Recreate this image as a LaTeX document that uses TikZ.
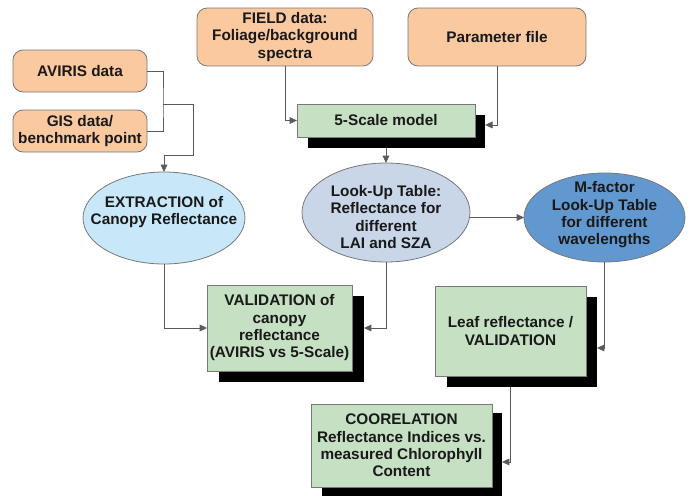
\documentclass[tikz,border=0pt]{standalone}
\usepackage{fontspec}
\setmainfont{Liberation Sans}
\usetikzlibrary{arrows.meta,shapes.geometric}
\definecolor{peach}{RGB}{250,201,160}
\definecolor{sage}{RGB}{198,224,196}
\definecolor{skyblue}{RGB}{200,232,250}
\definecolor{mistblue}{RGB}{200,214,232}
\definecolor{deepblue}{RGB}{98,152,208}
\definecolor{edgegray}{RGB}{120,120,120}
\definecolor{linegray}{RGB}{90,90,90}
\definecolor{inkdark}{RGB}{25,25,25}

\begin{document}
\begin{tikzpicture}[x=0.75pt, y=-0.75pt, font=\bfseries\fontsize{11.5}{13}\selectfont,
  >={Triangle[length=5.5pt,width=5pt]}, every node/.style={align=center, text=inkdark, outer sep=0pt},
  src/.style={draw=edgegray, rounded corners=7.5pt, fill=peach, line width=0.6pt},
  proc/.style={draw=edgegray, fill=sage, line width=0.6pt, inner sep=2pt},
  shd/.style={fill=black, inner sep=0pt},
  oval/.style={ellipse, draw=edgegray, line width=0.6pt, inner sep=0pt},
  ar/.style={->, draw=linegray, line width=0.6pt},
  ln/.style={draw=linegray, line width=0.6pt}]
\useasboundingbox (0,0) rectangle (693,496);
% inputs
\node[src, minimum width=100.5pt, minimum height=31.5pt] (aviris) at (80,71) {AVIRIS data};
\node[src, minimum width=100.5pt, minimum height=31.5pt] (gis) at (80,131) {GIS data/\\benchmark point};
\node[src, minimum width=132pt, minimum height=42pt] (field) at (285,37) {FIELD data:\\Foliage/background\\spectra};
\node[src, minimum width=133.5pt, minimum height=43.5pt] (param) at (497,37) {Parameter file};
% model
\node[shd, minimum width=133pt, minimum height=24.75pt] (scaleshd) at (396.5,131.5) {};
\node[proc, minimum width=133.5pt, minimum height=24.75pt] (scale) at (386,120.5) {5-Scale model};
% ellipses (outline, then text on top)
\node[oval, fill=skyblue, minimum width=121.5pt, minimum height=69pt] (extr) at (164,218) {};
\node (extrtxt) at (164,212) {EXTRACTION of\\Canopy Reflectance};
\node[oval, fill=mistblue, minimum width=126pt, minimum height=74.25pt] (lut) at (386,212.5) {};
\node (luttxt) at (386,217) {Look-Up Table:\\Reflectance for\\different\\LAI and SZA};
\node[oval, fill=deepblue, minimum width=120.75pt, minimum height=66.75pt] (mfac) at (604.5,217.5) {};
\node (mfactxt) at (604.5,215) {M-factor\\Look-Up Table\\for different\\wavelengths};
% results
\node[shd, minimum width=108.75pt, minimum height=64.5pt] (validshd) at (291.5,339) {};
\node[proc, minimum width=108.75pt, minimum height=64.5pt] (valid) at (279.5,328) {VALIDATION of\\canopy\\reflectance\\(AVIRIS vs 5-Scale)};
\node[shd, minimum width=112.5pt, minimum height=67.5pt] (leafshd) at (522,342) {};
\node[proc, minimum width=113.25pt, minimum height=67.5pt] (leaf) at (510.5,331) {Leaf reflectance /\\VALIDATION};
\node[shd, minimum width=135pt, minimum height=62.25pt] (corrshd) at (412,454.5) {};
\node[proc, minimum width=135.75pt, minimum height=62.25pt] (corr) at (401.5,445.5) {COORELATION\\Reflectance Indices vs.\\measured Chlorophyll\\Content};
% connectors
\coordinate (avbus) at (163,104);
\coordinate (avturn) at (193,155);
\draw[ln] (aviris.east) -| (avbus) |- (gis.east);
\draw[ar] (avbus) -| (avturn) -| (extr.north);
\draw[ar] (field.south) |- (scale.west);
\draw[ar] (param.south) |- ([yshift=4.9pt]scaleshd.east);
\draw[ar] (scale.south|-scaleshd.south) -- (lut.north);
\draw[ar] (lut.east|-mfac.west) -- (mfac.west);
\draw[ar] (extr.south) |- (valid.west);
\draw[ar] (lut.south) |- (validshd.east|-valid.east);
\draw[ar] (mfac.south) |- ([yshift=-4.5pt]leafshd.east);
\draw[ar] (leaf.south|-leafshd.south) |- ([yshift=-5.6pt]corrshd.east);
\end{tikzpicture}
\end{document}
